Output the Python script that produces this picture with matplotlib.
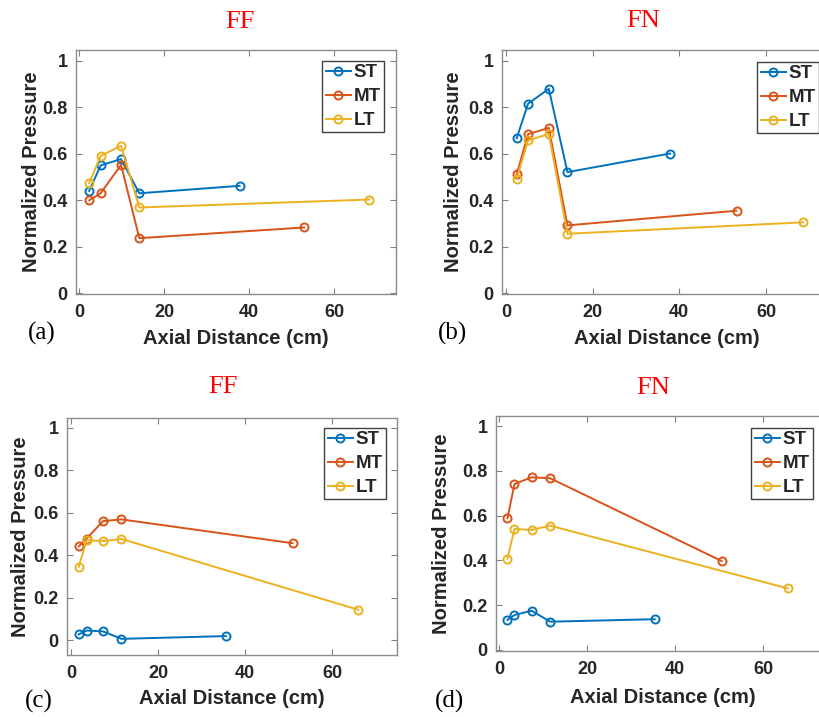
import matplotlib
matplotlib.use("Agg")
import matplotlib.pyplot as plt

# axial distance (cm) of the four near stations, per panel
x_a = [2.4, 5.1, 9.9, 14.2]
x_b = [2.5, 5.1, 9.9, 14.2]
x_c = [1.8, 3.6, 7.4, 11.6]
x_d = [1.9, 3.5, 7.4, 11.6]

# far station per series (ST, MT, LT)
far_a = [37.8, 53.0, 68.3]
far_b = [37.9, 53.2, 68.6]
far_c = [35.6, 50.9, 66.0]
far_d = [35.4, 50.6, 65.6]

# normalized pressure
st_a = [0.44, 0.55, 0.577, 0.43, 0.462]
mt_a = [0.40, 0.43, 0.552, 0.237, 0.283]
lt_a = [0.473, 0.591, 0.634, 0.369, 0.403]

st_b = [0.667, 0.815, 0.879, 0.521, 0.601]
mt_b = [0.512, 0.684, 0.711, 0.292, 0.355]
lt_b = [0.493, 0.657, 0.685, 0.256, 0.305]

st_c = [0.027, 0.045, 0.041, 0.006, 0.019]
mt_c = [0.441, 0.478, 0.56, 0.568, 0.456]
lt_c = [0.345, 0.47, 0.466, 0.476, 0.143]

st_d = [0.134, 0.156, 0.175, 0.126, 0.137]
mt_d = [0.588, 0.741, 0.771, 0.767, 0.397]
lt_d = [0.408, 0.54, 0.536, 0.555, 0.275]

series_names = ["ST", "MT", "LT"]
colors = ["#0072BD", "#D95319", "#EDB120"]
titles = ["FF", "FN", "FF", "FN"]
tags = ["(a)", "(b)", "(c)", "(d)"]
x_ticks = [0, 20, 40, 60]
y_ticks = [0, 0.2, 0.4, 0.6, 0.8, 1]
y_tick_labels = ["0", "0.2", "0.4", "0.6", "0.8", "1"]

W, H = 819, 717
fig = plt.figure(figsize=(W / 100, H / 100), dpi=100)
fig.patch.set_facecolor("white")

sans = "Liberation Sans"
serif = "Liberation Serif"


def rect(l, t, r, b):
    return [l / W, 1 - b / H, (r - l) / W, (b - t) / H]


panels = [
    dict(box=(76, 50, 396, 294), xlim=(-0.7, 74.6), ylim=(-0.003, 1.046),
         near=x_a, far=far_a, ys=[st_a, mt_a, lt_a], ylab_x=-0.109,
         xlab_y=-0.143, leg=(384, 61), title=(240, 22), tag=(42, 333)),
    dict(box=(502, 50, 831, 294), xlim=(-0.9, 75), ylim=(-0.003, 1.046),
         near=x_b, far=far_b, ys=[st_b, mt_b, lt_b], ylab_x=-0.1185,
         xlab_y=-0.143, leg=(819, 62), title=(643, 21), tag=(452, 333)),
    dict(box=(67, 418, 397, 655), xlim=(-0.9, 74.9), ylim=(-0.07, 1.045),
         near=x_c, far=far_c, ys=[st_c, mt_c, lt_c], ylab_x=-0.112,
         xlab_y=-0.1435, leg=(386, 428), title=(223, 387), tag=(39, 701)),
    dict(box=(496, 416, 829, 651), xlim=(-0.7, 75), ylim=(-0.005, 1.045),
         near=x_d, far=far_d, ys=[st_d, mt_d, lt_d], ylab_x=-0.135,
         xlab_y=-0.157, leg=(813, 428), title=(653, 388), tag=(449, 701)),
]

for i, p in enumerate(panels):
    ax = fig.add_axes(rect(*p["box"]))
    for name, col, yv, xf in zip(series_names, colors, p["ys"], p["far"]):
        ax.plot(p["near"] + [xf], yv, color=col, lw=1.4, marker="o",
                ms=5.8, mfc="none", mew=1.4, label=name)
    ax.set_xlim(*p["xlim"])
    ax.set_ylim(*p["ylim"])
    ax.set_xticks(x_ticks)
    ax.set_yticks(y_ticks)
    ax.set_yticklabels(y_tick_labels)
    ax.tick_params(direction="in", top=True, right=True, length=4,
                   width=0.8, color="#808080", labelcolor="#262626",
                   labelsize=13)
    ax.tick_params(axis="x", pad=7)
    ax.tick_params(axis="y", pad=6)
    for lab in ax.get_xticklabels() + ax.get_yticklabels():
        lab.set_fontfamily(sans)
        lab.set_fontweight("bold")
    for sp in ax.spines.values():
        sp.set_color("#8c8c8c")
        sp.set_linewidth(1.0)
    ax.set_xlabel("Axial Distance (cm)", fontsize=14.5, fontweight="bold",
                  family=sans, color="#262626")
    ax.set_ylabel("Normalized Pressure", fontsize=14.5, fontweight="bold",
                  family=sans, color="#262626")
    ax.xaxis.set_label_coords(0.5, p["xlab_y"])
    ax.yaxis.set_label_coords(p["ylab_x"], 0.5)

    lx, ly = p["leg"]
    leg = ax.legend(loc="upper right", bbox_to_anchor=(lx / W, 1 - ly / H),
                    bbox_transform=fig.transFigure, borderaxespad=0,
                    fancybox=False, framealpha=1, edgecolor="#404040",
                    prop=dict(family=sans, weight="bold", size=13.5),
                    handlelength=1.35, handletextpad=0.15, labelspacing=0.36,
                    borderpad=0.17)
    leg.get_frame().set_linewidth(1.0)
    for t in leg.get_texts():
        t.set_color("#262626")

    tx, ty = p["title"]
    fig.text(tx / W, 1 - ty / H, titles[i], color="red", family=serif,
             fontsize=19, ha="center", va="center")
    gx, gy = p["tag"]
    fig.text(gx / W, 1 - gy / H, tags[i], color="black", family=serif,
             fontsize=18, ha="center", va="center")

fig.savefig("out.png", dpi=100)
